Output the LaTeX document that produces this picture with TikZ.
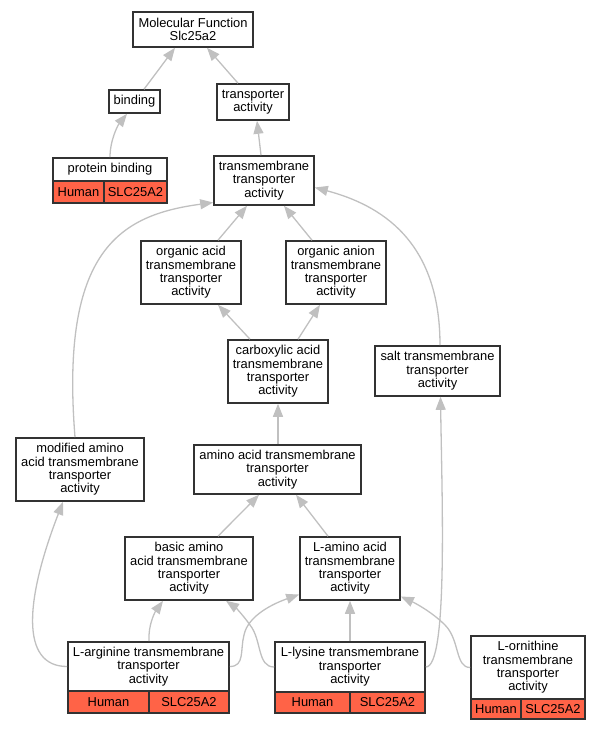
\documentclass[tikz,border=0pt]{standalone}
\usepackage{fontspec}
\setmainfont{Liberation Sans}
\usetikzlibrary{arrows.meta}
\definecolor{edgegray}{RGB}{192,192,192}
\definecolor{boxline}{RGB}{50,50,50}
\definecolor{tomatofill}{RGB}{255,99,71}
\begin{document}
\begin{tikzpicture}[x=1pt,y=-1pt,
  box/.style={draw=boxline,line width=1.6pt,fill=white,inner sep=0pt,align=center,
    font=\fontsize{12.9}{13.4}\selectfont},
  cell/.style={box,fill=tomatofill},
  edge/.style={draw=edgegray,line width=1.3pt,-{Triangle[length=13pt,width=10pt]}}]
\useasboundingbox (0,0) rectangle (601,731);
% nodes
\node[box,minimum width=120,minimum height=35] (mf) at (193,29.5) {Molecular Function\\Slc25a2};
\node[box,minimum width=51,minimum height=23] (binding) at (134.5,101.5) {binding};
\node[box,minimum width=72,minimum height=36] (ta) at (253,102) {transporter\\activity};
\node[box,minimum width=114,minimum height=23] (pb) at (110,169.5) {protein binding};
\node[cell,minimum width=51,minimum height=22] (pbh) at (78.5,192) {Human};
\node[cell,minimum width=63,minimum height=22] (pbs) at (135.5,192) {SLC25A2};
\node[box,minimum width=100,minimum height=49] (tta) at (264,180.5) {transmembrane\\transporter\\activity};
\node[box,minimum width=100,minimum height=63] (oa) at (191,272.5) {organic acid\\transmembrane\\transporter\\activity};
\node[box,minimum width=100,minimum height=63] (oan) at (336,272.5) {organic anion\\transmembrane\\transporter\\activity};
\node[box,minimum width=100,minimum height=63] (ca) at (278,371.5) {carboxylic acid\\transmembrane\\transporter\\activity};
\node[box,minimum width=125,minimum height=50] (salt) at (437.5,371) {salt transmembrane\\transporter\\activity};
\node[box,minimum width=128,minimum height=63] (mod) at (80,469.5) {modified amino\\acid transmembrane\\transporter\\activity};
\node[box,minimum width=167,minimum height=49] (aa) at (277.5,469.5) {amino acid transmembrane\\transporter\\activity};
\node[box,minimum width=128,minimum height=63] (basic) at (189,568.5) {basic amino\\acid transmembrane\\transporter\\activity};
\node[box,minimum width=100,minimum height=63] (lam) at (350,568.5) {L-amino acid\\transmembrane\\transporter\\activity};
\node[box,minimum width=161,minimum height=49] (arg) at (148.5,666.5) {L-arginine transmembrane\\transporter\\activity};
\node[cell,minimum width=81,minimum height=22] (argh) at (108.5,702) {Human};
\node[cell,minimum width=80,minimum height=22] (args) at (189,702) {SLC25A2};
\node[box,minimum width=150,minimum height=50] (lys) at (350,667) {L-lysine transmembrane\\transporter\\activity};
\node[cell,minimum width=75,minimum height=21] (lysh) at (312.5,702.5) {Human};
\node[cell,minimum width=75,minimum height=21] (lyss) at (387.5,702.5) {SLC25A2};
\node[box,minimum width=114,minimum height=63] (orn) at (528,667.5) {L-ornithine\\transmembrane\\transporter\\activity};
\node[cell,minimum width=50,minimum height=20] (ornh) at (496,709) {Human};
\node[cell,minimum width=64,minimum height=20] (orns) at (553,709) {SLC25A2};
% edges
\draw[edge] ([xshift=9.5]binding.north) -- ([xshift=-18]mf.south);
\draw[edge] ([xshift=-15]ta.north) -- ([xshift=14]mf.south);
\draw[edge] (pb.north) .. controls (110,140) and (118,125) .. ([xshift=-7.5]binding.south);
\draw[edge] ([xshift=-3]tta.north) -- ([xshift=4]ta.south);
\draw[edge] ([xshift=27]oa.north) -- ([xshift=-17]tta.south);
\draw[edge] ([xshift=-24]oan.north) -- ([xshift=20]tta.south);
\draw[edge] ([xshift=-5]mod.north) .. controls (60,250) and (120,215) .. ([yshift=-22]tta.west);
\draw[edge] ([xshift=2.5]salt.north) .. controls (440,240) and (380,205) .. ([yshift=-7]tta.east);
\draw[edge] ([xshift=-28]ca.north) -- ([xshift=27]oa.south);
\draw[edge] ([xshift=20]ca.north) -- ([xshift=-16]oan.south);
\draw[edge] ([xshift=0.5]aa.north) -- (ca.south);
\draw[edge] ([xshift=29]basic.north) -- ([xshift=-18.5]aa.south);
\draw[edge] ([xshift=-22]lam.north) -- ([xshift=18.5]aa.south);
\draw[edge] (arg.west) .. controls (20,666.5) and (25,600) .. ([xshift=-17]mod.south);
\draw[edge] ([xshift=0.5]arg.north) .. controls (148,625) and (155,612) .. ([xshift=-26]basic.south);
\draw[edge] (arg.east) .. controls (245,666.5) and (240,650) .. (244,635) .. controls (248,615) and (275,603) .. ([yshift=-26]lam.west);
\draw[edge] (lys.west) .. controls (257,667) and (262,640) .. (250,625) .. controls (243,615) and (235,607) .. ([xshift=37]basic.south);
\draw[edge] (lys.north) -- (lam.south);
\draw[edge] (lys.east) .. controls (448,667) and (442,500) .. ([xshift=3]salt.south);
\draw[edge] (orn.west) .. controls (455,667.5) and (460,640) .. (445,625) .. controls (432,612) and (415,603) .. ([yshift=-28]lam.east);
\end{tikzpicture}
\end{document}
